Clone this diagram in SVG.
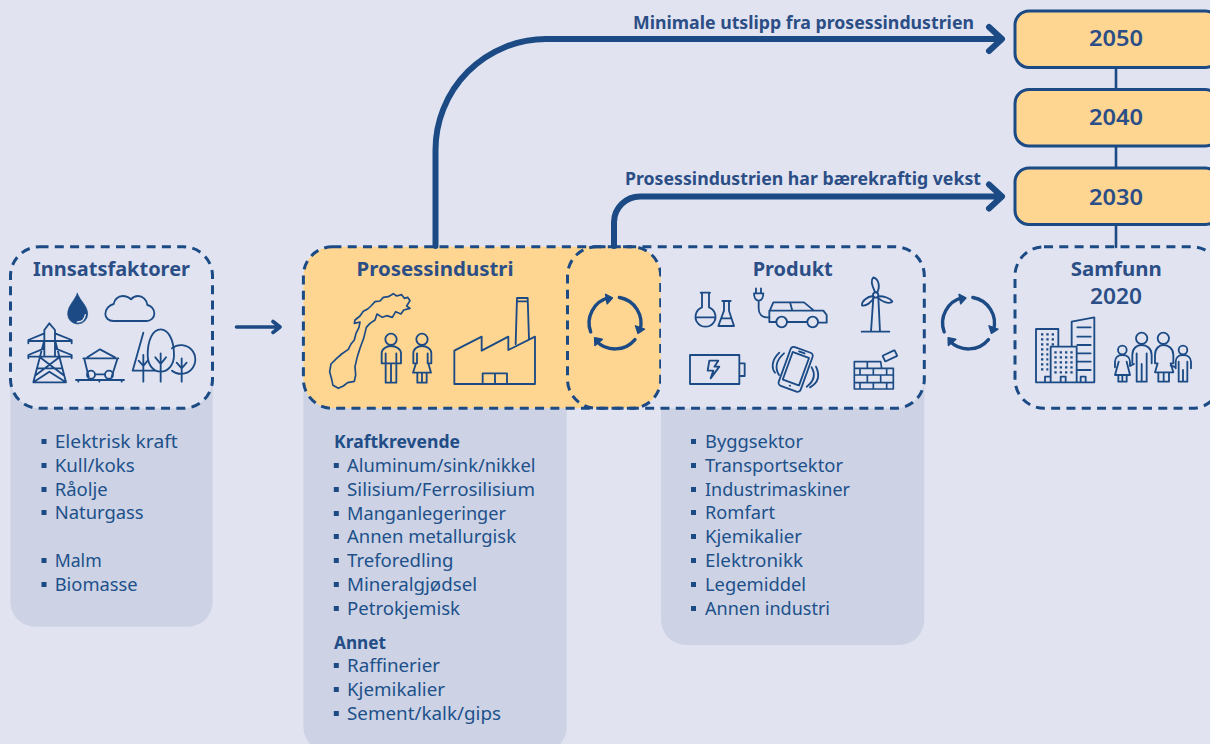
<svg xmlns="http://www.w3.org/2000/svg" xmlns:xlink="http://www.w3.org/1999/xlink" width="1210" height="744" viewBox="0 0 1210 744">
<style>
text{font-family:"Noto Sans","Liberation Sans",sans-serif;fill:#224D86}
.t{font-size:18px;fill:#20508A}
.h{font-size:18px;font-weight:700;fill:#224D86}
.b{font-size:20px;font-weight:700;fill:#2C4E86;text-anchor:middle}
.y{font-size:21px;font-weight:600;fill:#2C4E86;text-anchor:middle}
.l{font-size:18px;font-weight:700;fill:#2C4E86}
.pan{fill:#CDD3E5}
.bg{fill:#E1E4F0}
.dash{fill:none;stroke:#1B4A85;stroke-width:3;stroke-dasharray:9 6.3}
.box{fill:#FED591;stroke:#1B4A85;stroke-width:3}
.ico{fill:none;stroke:#1B4A85;stroke-width:5.5;stroke-linecap:round;stroke-linejoin:round}
.bu{fill:#1B4A85}
.arr{fill:none;stroke:#1B4A85;stroke-linecap:round;stroke-linejoin:round}
</style>
<defs>
<g id="cyc-arm"><path d="M-24.3 9A26 26 0 0 1-6 -25.3" fill="none" stroke="#1B4A85" stroke-width="3.4" stroke-linecap="round"/><polygon points="-2.6,-25 -9.4,-28.6 -7.8,-19.2" fill="#1B4A85" stroke="#1B4A85" stroke-width="1.5" stroke-linejoin="round"/></g>
<g id="cyc"><use href="#cyc-arm"/><use href="#cyc-arm" transform="rotate(120)"/><use href="#cyc-arm" transform="rotate(240)"/></g>
<rect id="bu" width="5" height="5" class="bu"/>
</defs>
<rect width="1210" height="744" class="bg"/>

<g id="node-innsatsfaktorer">
<path class="pan" d="M10.4 380H212.7V601.7a25 25 0 0 1-25 25H35.4a25 25 0 0 1-25-25Z"/>
<rect class="bg" x="10.5" y="246.8" width="202" height="161.5" rx="29"/>
<rect class="dash" x="10.5" y="246.8" width="202" height="161.5" rx="29"/>
<text class="b" x="111.5" y="276" textLength="157" lengthAdjust="spacingAndGlyphs">Innsatsfaktorer</text>
<g transform="scale(.33333) translate(0 720)" class="ico">
<path d="M232 160C224 182 203 198 203 222A30 30 0 0 0 263 222C263 198 240 182 232 160Z" fill="#1B4A85" stroke-width="2"/>
<path d="M232 246C245 246 254 238 256 224" stroke="#E1E4F0" stroke-width="4"/>
<path d="M340 243H440C452 243 463 233 463 221C463 206 452 197 442 195C441 180 428 168 414 168C405 168 398 172 393 178C386 171 378 168 368 168C353 168 343 180 341 192C327 195 316 208 316 222C316 234 326 243 340 243Z"/>
<path d="M148 250L133 270V300L100 427H198L165 300V270ZM133 280L85 300V310M165 280L215 300V310M85 303H215M133 325L85 345V355M165 325L215 345V355M85 350H215M133 303V350M165 303V350M120 352L190 405M178 352L108 405M112 385H186M100 427L148 395L198 427"/>
<path d="M228 420H372M235 420V425M298 420V425M365 420V425M250 355H355M253 357L266 410M352 357L335 410M262 352L300 328L345 352M285 403H315"/>
<circle cx="273" cy="404" r="12"/><circle cx="327" cy="404" r="12"/>
<path d="M430 278L398 392H463M430 345V425M430 378L416 362M430 378L443 362"/>
<path d="M482 268C458 268 443 300 443 345C443 375 460 395 482 395C504 395 522 375 522 345C522 300 505 268 482 268ZM482 340V425M482 372L466 352M482 372L498 352"/>
<path d="M516 325A43 43 0 1 1 516 392M545 355V425M545 385L530 368M545 385L560 368"/>
</g>
<use href="#bu" x="41.5" y="439"/><text class="t" x="54.7" y="448" textLength="123" lengthAdjust="spacingAndGlyphs">Elektrisk kraft</text>
<use href="#bu" x="41.5" y="463"/><text class="t" x="54.7" y="472" textLength="80" lengthAdjust="spacingAndGlyphs">Kull/koks</text>
<use href="#bu" x="41.5" y="487"/><text class="t" x="54.7" y="496" textLength="53" lengthAdjust="spacingAndGlyphs">Råolje</text>
<use href="#bu" x="41.5" y="510"/><text class="t" x="54.7" y="519" textLength="89" lengthAdjust="spacingAndGlyphs">Naturgass</text>
<use href="#bu" x="41.5" y="558"/><text class="t" x="54.7" y="567" textLength="47" lengthAdjust="spacingAndGlyphs">Malm</text>
<use href="#bu" x="41.5" y="582"/><text class="t" x="54.7" y="591" textLength="83" lengthAdjust="spacingAndGlyphs">Biomasse</text>
</g>

<g id="node-prosessindustri">
<path class="pan" d="M303.4 380H566.8V727a25 25 0 0 1-25 25H328.4a25 25 0 0 1-25-25Z"/>
<rect x="303.4" y="246.8" width="357.3" height="161.5" rx="29" fill="#FED591"/>
<rect class="dash" x="303.4" y="246.8" width="357.3" height="161.5" rx="29"/>
<text class="b" x="435" y="276" textLength="157" lengthAdjust="spacingAndGlyphs">Prosessindustri</text>
<g transform="translate(295 240) scale(.33333)" class="ico">
<path stroke-width="5" d="M345 182L338 172L328 175L320 164L305 168L295 161L280 170L265 172L255 183L240 185L228 198L218 207L205 214L195 228L180 240L178 250L195 246L192 262L183 280L178 300L168 312L160 328L140 342L125 355L108 372L104 395L110 418L114 436L130 445L145 438L158 428L178 424L182 405L180 380L187 350L195 325L206 295L214 262L225 250L240 240L246 222L262 232L275 227L292 232L302 215L318 222L326 210L345 205L335 198Z"/>
<circle cx="288" cy="298" r="17"/>
<path d="M260 370V340C260 326 275 318 288 318C302 318 318 326 318 340V370ZM272 340V428H304V340M288 372V428"/>
<circle cx="381" cy="298" r="17"/>
<path d="M355 370V340C355 326 368 318 381 318C395 318 409 326 409 340V370H400L408 398H354L363 370H355M366 340V370M398 340V370M367 398V428H395V398M381 398V428"/>
<path d="M478 432V332L560 290V332L640 290V330L720 290V432ZM662 312L666 174H698L702 298M666 184H698M563 432V400H636V432M600 400V432"/>
</g>
<use href="#cyc" x="615" y="323"/>
<text class="h" x="334" y="448" textLength="126" lengthAdjust="spacingAndGlyphs">Kraftkrevende</text>
<use href="#bu" x="333.8" y="463"/><text class="t" x="347" y="472" textLength="188.5" lengthAdjust="spacingAndGlyphs">Aluminum/sink/nikkel</text>
<use href="#bu" x="333.8" y="487"/><text class="t" x="347" y="496" textLength="188" lengthAdjust="spacingAndGlyphs">Silisium/Ferrosilisium</text>
<use href="#bu" x="333.8" y="511"/><text class="t" x="347" y="520" textLength="159" lengthAdjust="spacingAndGlyphs">Manganlegeringer</text>
<use href="#bu" x="333.8" y="534"/><text class="t" x="347" y="543" textLength="169" lengthAdjust="spacingAndGlyphs">Annen metallurgisk</text>
<use href="#bu" x="333.8" y="558"/><text class="t" x="347" y="567" textLength="106.5" lengthAdjust="spacingAndGlyphs">Treforedling</text>
<use href="#bu" x="333.8" y="582"/><text class="t" x="347" y="591" textLength="130" lengthAdjust="spacingAndGlyphs">Mineralgjødsel</text>
<use href="#bu" x="333.8" y="606"/><text class="t" x="347" y="615" textLength="113" lengthAdjust="spacingAndGlyphs">Petrokjemisk</text>
<text class="h" x="334" y="649" textLength="52" lengthAdjust="spacingAndGlyphs">Annet</text>
<use href="#bu" x="333.8" y="663"/><text class="t" x="347" y="672" textLength="93" lengthAdjust="spacingAndGlyphs">Raffinerier</text>
<use href="#bu" x="333.8" y="687"/><text class="t" x="347" y="696" textLength="98" lengthAdjust="spacingAndGlyphs">Kjemikalier</text>
<use href="#bu" x="333.8" y="711"/><text class="t" x="347" y="720" textLength="154" lengthAdjust="spacingAndGlyphs">Sement/kalk/gips</text>
</g>

<g id="node-produkt">
<path class="pan" d="M661 380H924.3V620a25 25 0 0 1-25 25H686a25 25 0 0 1-25-25Z"/>
<path class="bg" d="M661 246.8H895.3a29 29 0 0 1 29 29V379.3a29 29 0 0 1-29 29H661Z"/>
<rect class="dash" x="567.5" y="246.8" width="356.8" height="161.5" rx="29"/>
<text class="b" x="792.7" y="276" textLength="80" lengthAdjust="spacingAndGlyphs">Produkt</text>
<g transform="translate(660 240) scale(.33333)" class="ico">
<path d="M122 158H150M126 158V202A30 30 0 1 0 147 202V158M108 232H166"/>
<path d="M187 183H212M192 183V212L175 258H222L207 212V183M184 235H213"/>
<path d="M282 160H310C310 172 305 182 296 182C287 182 282 172 282 160ZM288 145V160M303 145V160M296 182V205C296 222 306 232 320 232H328"/>
<path d="M349 246H328V215L340 187H432L462 212H490L500 225V248H475M441 246H381M328 212H462M390 187L397 212"/>
<circle cx="365" cy="246" r="16"/><circle cx="458" cy="246" r="16"/>
<path d="M640 173L633 275M655 173L660 275M605 275H688"/>
<circle cx="647" cy="165" r="8"/>
<path d="M645 156C635 135 633 118 640 112C654 116 662 136 652 157ZM639 168C622 170 605 182 606 196C618 200 635 186 642 173ZM655 169C670 168 692 174 697 185C685 194 665 184 653 173Z"/>
<path d="M90 345H238V432H90ZM238 370H254V408H238M148 362L143 392H160L152 415L178 380H163L175 362Z"/>
<g transform="rotate(20 407 388)"><rect x="372" y="326" width="70" height="124" rx="10"/><rect x="381" y="342" width="52" height="88" rx="1"/><path d="M398 334H416M407 440H408"/></g>
<path d="M372 340C348 360 344 385 357 405M358 338C333 362 335 385 345 398M455 382C468 405 460 425 440 440M468 380C482 410 472 430 450 442"/>
<path stroke-width="5" d="M583 447V365H662L665 385M583 385H700V447H583M583 405H700M583 428H700M622 365V385M600 385V405M640 385V405M680 385V405M622 405V428M662 405V428M600 428V447M640 428V447M680 428V447"/>
<rect x="670" y="338" width="40" height="19" rx="2" transform="rotate(-25 690 348)"/>
</g>
<use href="#bu" x="691" y="439"/><text class="t" x="705" y="448" textLength="98" lengthAdjust="spacingAndGlyphs">Byggsektor</text>
<use href="#bu" x="691" y="463"/><text class="t" x="705" y="472" textLength="138" lengthAdjust="spacingAndGlyphs">Transportsektor</text>
<use href="#bu" x="691" y="487"/><text class="t" x="705" y="496" textLength="145" lengthAdjust="spacingAndGlyphs">Industrimaskiner</text>
<use href="#bu" x="691" y="510"/><text class="t" x="705" y="519" textLength="70" lengthAdjust="spacingAndGlyphs">Romfart</text>
<use href="#bu" x="691" y="534"/><text class="t" x="705" y="543" textLength="97" lengthAdjust="spacingAndGlyphs">Kjemikalier</text>
<use href="#bu" x="691" y="558"/><text class="t" x="705" y="567" textLength="98" lengthAdjust="spacingAndGlyphs">Elektronikk</text>
<use href="#bu" x="691" y="582"/><text class="t" x="705" y="591" textLength="101" lengthAdjust="spacingAndGlyphs">Legemiddel</text>
<use href="#bu" x="691" y="606"/><text class="t" x="705" y="615" textLength="125" lengthAdjust="spacingAndGlyphs">Annen industri</text>
</g>

<g id="node-kretslop"><use href="#cyc" x="968.5" y="323"/></g>

<g id="connectors">
<path class="arr" stroke-width="3.6" d="M236.5 327H279M273 321.5L280 327L273 332.5"/>
<path class="arr" stroke-width="6" d="M435.5 246V150A111 111 0 0 1 546 39H1001M989 27L1002 39L989 51"/>
<path class="arr" stroke-width="6" d="M614 246V222A26 26 0 0 1 640 196.5H1001M989 184.5L1002 196.5L989 208.5"/>
<path class="arr" stroke-width="2.6" d="M1116 67V247"/>
</g>

<g id="node-samfunn">
<rect class="dash" x="1015" y="246.8" width="206" height="161.5" rx="29"/>
<text class="b" x="1116.2" y="276" textLength="91" lengthAdjust="spacingAndGlyphs">Samfunn</text>
<text class="y" x="1116" y="304" textLength="52" lengthAdjust="spacingAndGlyphs">2020</text>
<g transform="translate(930 240) scale(.33333)" class="ico">
<path d="M362 427H318V267H385V320M362 427V320H440V427M425 320V245L493 232V427H318M345 427V410H360M392 427V410H407V427M452 427V410H467V427"/>
<path stroke-width="7" stroke-linecap="butt" stroke-dasharray="7 9" d="M333 283H375M333 298H375M333 313H375M333 328H355M333 343H355M333 358H355M333 373H355M333 388H355M373 337H433M373 352H433M373 367H433M373 382H433M373 397H433"/>
<path d="M442 262H482M442 290H482M442 315H482M442 340H482M442 365H482M442 390H482"/>
<circle cx="635" cy="295" r="17"/><circle cx="700" cy="295" r="17"/><circle cx="577" cy="330" r="13"/><circle cx="759" cy="330" r="13"/>
<path d="M607 370V345C607 325 620 315 635 315C650 315 665 325 665 345V370M620 340V425H650V340M635 372V425"/>
<path d="M675 370V345C675 325 688 315 700 315C715 315 730 325 730 345V370H722L730 397H675L683 370H675M685 397V425H717V397M701 397V425"/>
<path d="M555 382V365C555 352 565 345 577 345C590 345 600 352 600 365V378M566 365L555 405H600L590 365M565 405V425H590V405M577 405V425M600 378L612 372"/>
<path d="M737 385V365C737 352 747 345 759 345C772 345 783 352 783 365V385M746 365V425H772V365M759 390V425M722 376L737 382"/>
</g>
</g>

<g id="node-2050">
<rect class="box" x="1015" y="11" width="204" height="56.500" rx="14"/>
<text class="y" x="1116" y="45.700" textLength="54" lengthAdjust="spacingAndGlyphs">2050</text>
</g>
<g id="node-2040">
<rect class="box" x="1015" y="89.500" width="204" height="56.500" rx="14"/>
<text class="y" x="1116" y="125" textLength="54" lengthAdjust="spacingAndGlyphs">2040</text>
</g>
<g id="node-2030">
<rect class="box" x="1015" y="168" width="204" height="56.500" rx="14"/>
<text class="y" x="1116" y="204.700" textLength="54" lengthAdjust="spacingAndGlyphs">2030</text>
</g>
<g id="labels">
<text class="l" x="633" y="29.300" textLength="341" lengthAdjust="spacingAndGlyphs">Minimale utslipp fra prosessindustrien</text>
<text class="l" x="625" y="185" textLength="356" lengthAdjust="spacingAndGlyphs">Prosessindustrien har bærekraftig vekst</text>
</g>
</svg>
